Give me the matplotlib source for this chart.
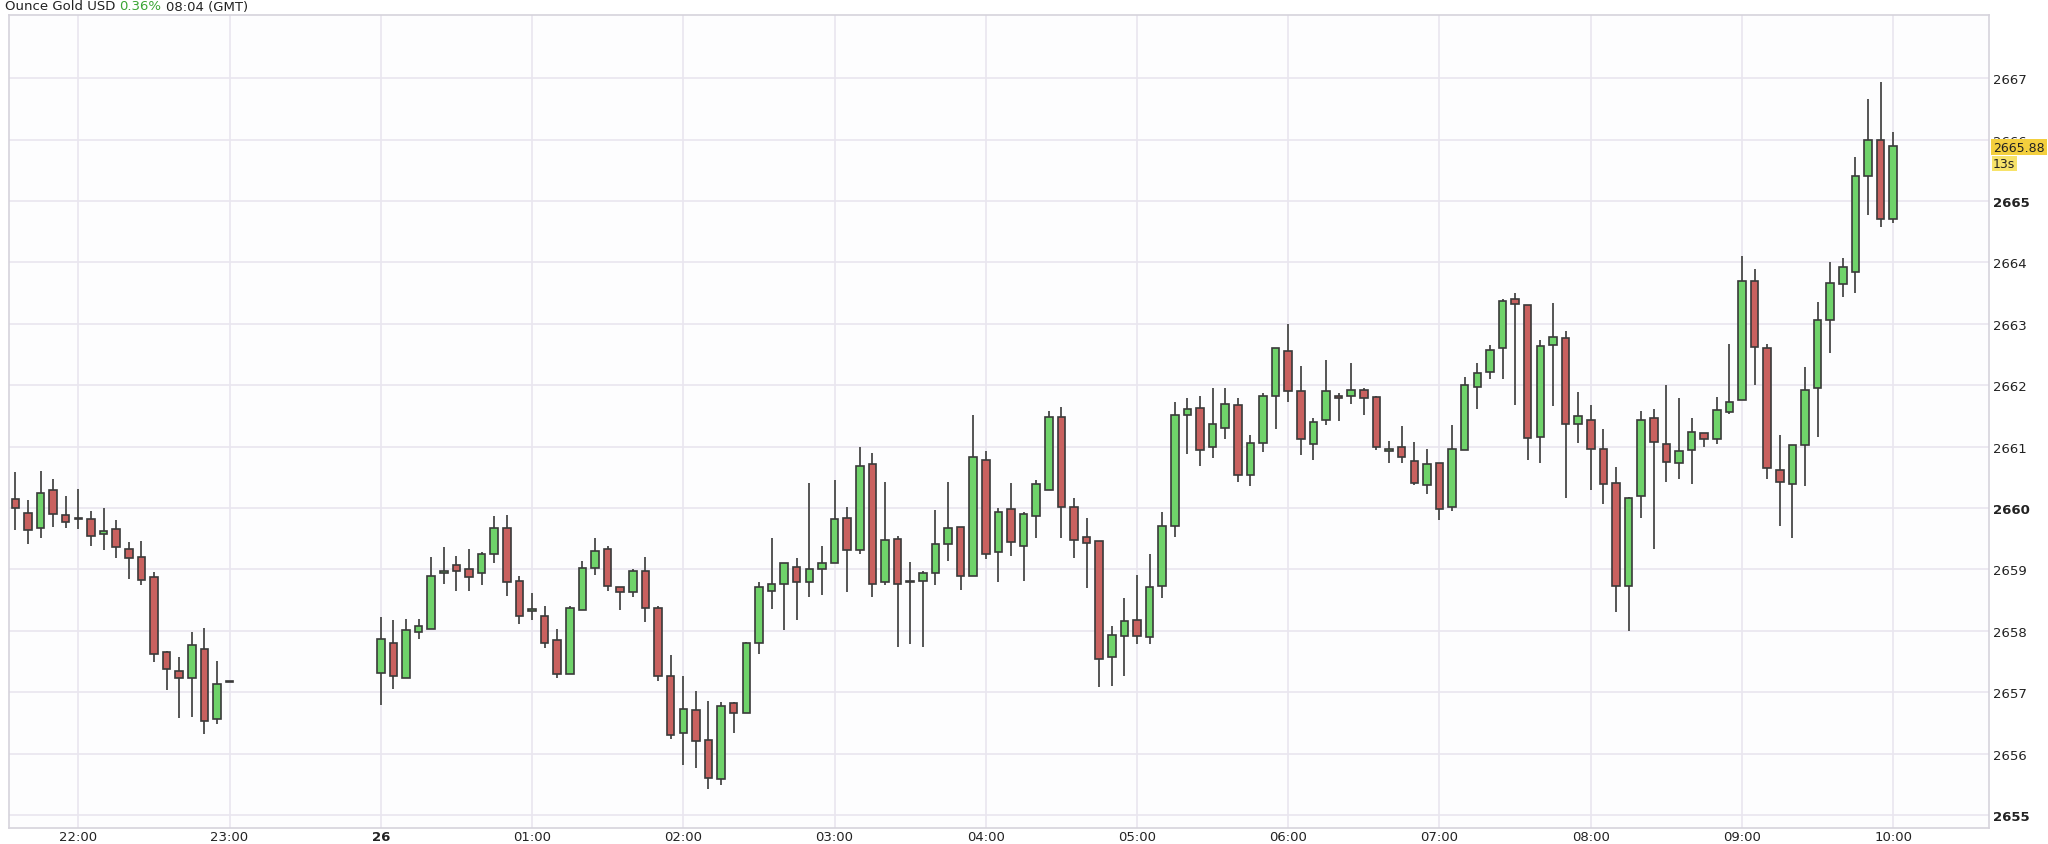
import numpy as np
import matplotlib.pyplot as plt

# 5-minute OHLC candles, 21:35 -> 23:00 then 00:00 -> 10:00
opens = [2660.15, 2659.92, 2659.67, 2660.29, 2659.89, 2659.83, 2659.82, 2659.58, 2659.66, 2659.33,
         2659.21, 2658.88, 2657.65, 2657.35, 2657.23, 2657.70, 2656.56, 2657.17,
         2657.31, 2657.80, 2657.23, 2657.99, 2658.03, 2658.94, 2659.08, 2659.00, 2658.94, 2659.26,
         2659.67, 2658.82, 2658.32, 2658.25, 2657.85, 2657.30, 2658.34, 2659.02, 2659.34, 2658.72,
         2658.64, 2658.97, 2658.37, 2657.27, 2656.33, 2656.71, 2656.23, 2655.59, 2656.82, 2656.66,
         2657.81, 2658.65, 2658.76, 2659.04, 2658.79, 2659.01, 2659.10, 2659.84, 2659.32, 2660.72,
         2658.80, 2659.50, 2658.80, 2658.81, 2658.94, 2659.41, 2659.70, 2658.89, 2660.79, 2659.29,
         2659.98, 2659.39, 2659.87, 2660.30, 2661.49, 2660.02, 2659.53, 2659.46, 2657.58, 2657.91,
         2658.17, 2657.90, 2658.73, 2659.71, 2661.51, 2661.63, 2661.00, 2661.31, 2661.68, 2660.54,
         2661.06, 2661.83, 2662.56, 2661.91, 2661.05, 2661.43, 2661.83, 2661.83, 2661.92, 2661.81,
         2660.93, 2661.00, 2660.77, 2660.37, 2660.73, 2660.02, 2660.94, 2661.97, 2662.21, 2662.61,
         2663.40, 2663.31, 2661.15, 2662.65, 2662.77, 2661.37, 2661.43, 2660.97, 2660.41, 2658.73,
         2660.20, 2661.47, 2661.05, 2660.73, 2660.94, 2661.22, 2661.13, 2661.57, 2661.76, 2663.69,
         2662.61, 2660.62, 2660.40, 2661.03, 2661.96, 2663.07, 2663.65, 2663.85, 2665.40, 2666.00,
         2664.71]
highs = [2660.59, 2660.13, 2660.61, 2660.47, 2660.20, 2660.31, 2659.95, 2660.00, 2659.80, 2659.44,
         2659.46, 2658.96, 2657.67, 2657.57, 2657.99, 2658.04, 2657.51, 2657.17,
         2658.23, 2658.18, 2658.19, 2658.20, 2659.20, 2659.36, 2659.22, 2659.34, 2659.29, 2659.87,
         2659.89, 2658.89, 2658.62, 2658.40, 2658.03, 2658.40, 2659.14, 2659.52, 2659.38, 2658.72,
         2659.01, 2659.21, 2658.40, 2657.60, 2657.27, 2657.02, 2656.86, 2656.85, 2656.85, 2657.82,
         2658.80, 2659.52, 2659.11, 2659.18, 2660.41, 2659.39, 2660.45, 2660.02, 2661.00, 2660.90,
         2660.43, 2659.54, 2659.13, 2658.97, 2659.97, 2660.43, 2659.70, 2661.51, 2660.93, 2660.00,
         2660.41, 2659.94, 2660.45, 2661.58, 2661.65, 2660.16, 2659.84, 2659.46, 2658.08, 2658.53,
         2658.91, 2659.25, 2659.94, 2661.73, 2661.80, 2661.82, 2661.95, 2661.95, 2661.80, 2661.19,
         2661.87, 2662.61, 2662.99, 2662.31, 2661.46, 2662.41, 2661.88, 2662.37, 2661.95, 2661.82,
         2661.10, 2661.34, 2661.07, 2660.96, 2660.73, 2661.36, 2662.14, 2662.36, 2662.66, 2663.40,
         2663.50, 2663.31, 2662.74, 2663.34, 2662.88, 2661.89, 2661.68, 2661.29, 2660.67, 2660.18,
         2661.58, 2661.61, 2662.00, 2661.79, 2661.47, 2661.23, 2661.81, 2662.68, 2664.10, 2663.90,
         2662.68, 2661.19, 2661.02, 2662.29, 2663.36, 2664.00, 2664.07, 2665.71, 2666.66, 2666.94,
         2666.13]
lows = [2659.65, 2659.42, 2659.51, 2659.70, 2659.68, 2659.66, 2659.38, 2659.32, 2659.18, 2658.84,
        2658.75, 2657.50, 2657.04, 2656.58, 2656.59, 2656.32, 2656.48, 2657.17,
        2656.79, 2657.05, 2657.23, 2657.87, 2658.03, 2658.76, 2658.65, 2658.65, 2658.75, 2659.11,
        2658.57, 2658.11, 2658.18, 2657.72, 2657.24, 2657.30, 2658.34, 2658.91, 2658.65, 2658.34,
        2658.56, 2658.14, 2657.19, 2656.24, 2655.81, 2655.76, 2655.42, 2655.49, 2656.34, 2656.66,
        2657.62, 2658.35, 2658.01, 2658.17, 2658.56, 2658.58, 2659.10, 2658.64, 2659.26, 2658.56,
        2658.75, 2657.74, 2657.78, 2657.73, 2658.74, 2659.14, 2658.66, 2658.89, 2659.17, 2658.80,
        2659.22, 2658.81, 2659.52, 2660.30, 2659.51, 2659.19, 2658.70, 2657.09, 2657.11, 2657.26,
        2657.79, 2657.79, 2658.53, 2659.53, 2660.88, 2660.68, 2660.82, 2661.13, 2660.43, 2660.36,
        2660.92, 2661.29, 2661.72, 2660.86, 2660.79, 2661.35, 2661.42, 2661.69, 2661.52, 2660.94,
        2660.73, 2660.74, 2660.37, 2660.23, 2659.80, 2659.96, 2660.94, 2661.61, 2662.10, 2662.11,
        2661.68, 2660.79, 2660.73, 2661.66, 2660.16, 2661.06, 2660.30, 2660.07, 2658.31, 2658.00,
        2659.84, 2659.33, 2660.43, 2660.47, 2660.39, 2661.00, 2661.05, 2661.53, 2661.76, 2662.01,
        2660.47, 2659.71, 2659.52, 2660.36, 2661.16, 2662.52, 2663.44, 2663.51, 2664.77, 2664.57,
        2664.65]
closes = [2660.00, 2659.65, 2660.24, 2659.90, 2659.78, 2659.83, 2659.54, 2659.62, 2659.37, 2659.18,
          2658.83, 2657.62, 2657.38, 2657.24, 2657.77, 2656.54, 2657.14, 2657.17,
          2657.86, 2657.27, 2658.02, 2658.08, 2658.89, 2658.98, 2658.98, 2658.88, 2659.25, 2659.67,
          2658.79, 2658.25, 2658.35, 2657.81, 2657.30, 2658.38, 2659.02, 2659.30, 2658.73, 2658.64,
          2658.98, 2658.38, 2657.27, 2656.30, 2656.72, 2656.21, 2655.60, 2656.78, 2656.67, 2657.80,
          2658.72, 2658.76, 2659.11, 2658.80, 2659.00, 2659.11, 2659.82, 2659.31, 2660.68, 2658.76,
          2659.48, 2658.76, 2658.80, 2658.94, 2659.41, 2659.67, 2658.89, 2660.84, 2659.26, 2659.94,
          2659.44, 2659.90, 2660.39, 2661.48, 2660.02, 2659.48, 2659.43, 2657.55, 2657.94, 2658.16,
          2657.91, 2658.71, 2659.71, 2661.51, 2661.61, 2660.94, 2661.37, 2661.69, 2660.54, 2661.06,
          2661.83, 2662.61, 2661.91, 2661.12, 2661.41, 2661.91, 2661.80, 2661.93, 2661.79, 2660.99,
          2660.96, 2660.83, 2660.41, 2660.72, 2659.99, 2660.96, 2662.00, 2662.20, 2662.58, 2663.38,
          2663.33, 2661.14, 2662.64, 2662.79, 2661.37, 2661.50, 2660.96, 2660.40, 2658.73, 2660.17,
          2661.44, 2661.08, 2660.75, 2660.93, 2661.24, 2661.12, 2661.59, 2661.73, 2663.69, 2662.63,
          2660.66, 2660.43, 2661.02, 2661.92, 2663.06, 2663.67, 2663.92, 2665.41, 2666.00, 2664.71,
          2665.90]

# no data between 23:00 and 00:00: session restarts 12 slots after the 23:00 candle
slots = list(range(18)) + list(range(29, 29 + len(opens) - 18))

tick_slots = [5, 17, 29, 41, 53, 65, 77, 89, 101, 113, 125, 137, 149]
tick_labels = ["22:00", "23:00", "26", "01:00", "02:00", "03:00", "04:00", "05:00",
               "06:00", "07:00", "08:00", "09:00", "10:00"]
price_ticks = list(range(2655, 2668))
last_price = 2665.88

up_col = "#6fd36a"
down_col = "#c9615f"
edge_col = "#3a3a3a"
grid_col = "#e9e6ef"
fs = 9.5

fig = plt.figure(figsize=(20.48, 8.45), dpi=100)
ax = fig.add_axes([9 / 2048, 1 - 829 / 845, (1989 - 9) / 2048, (829 - 16) / 845])
ax.set_facecolor("#fdfdfe")

o = np.array(opens); c = np.array(closes); h = np.array(highs); l = np.array(lows)
x = np.array(slots)
up = c >= o
ax.vlines(x, l, h, color="#555555", lw=1.4, zorder=2)
body_lo = np.minimum(o, c)
body_h = np.maximum(np.abs(c - o), 0.012)
ax.bar(x[up], body_h[up], bottom=body_lo[up], width=0.6, color=up_col,
       edgecolor=edge_col, linewidth=1.2, zorder=3)
ax.bar(x[~up], body_h[~up], bottom=body_lo[~up], width=0.6, color=down_col,
       edgecolor=edge_col, linewidth=1.2, zorder=3)

ax.set_xlim(-0.5, 156.6)
ax.set_ylim(2654.79, 2668.03)
ax.set_xticks(tick_slots)
ax.set_xticklabels(tick_labels)
ax.set_yticks(price_ticks)
ax.set_yticklabels([str(p) for p in price_ticks])
ax.yaxis.tick_right()
ax.tick_params(axis="both", length=0, labelsize=fs, colors="#222222")
ax.tick_params(axis="x", pad=1.5)
ax.tick_params(axis="y", pad=3)
for lab in ax.get_xticklabels():
    if lab.get_text() == "26":
        lab.set_fontweight("bold")
for lab in ax.get_yticklabels():
    if lab.get_text() in ("2655", "2660", "2665"):
        lab.set_fontweight("bold")
ax.grid(True, color=grid_col, lw=1.2, zorder=0)
for sp in ax.spines.values():
    sp.set_color("#d6d3dc")
    sp.set_linewidth(1.2)

# header, pieces chained one after another
t1 = fig.text(5 / 2048, 1 - 7 / 845, "Ounce Gold USD", fontsize=fs, va="center", ha="left", color="#222222")
t2 = ax.annotate("0.36%", xy=(1, 0.5), xycoords=t1, xytext=(3, 0), textcoords="offset points",
                 fontsize=fs, va="center", ha="left", color="#3aa533", annotation_clip=False)
ax.annotate("08:04 (GMT)", xy=(1, 0.5), xycoords=t2, xytext=(3, 0), textcoords="offset points",
            fontsize=fs, va="center", ha="left", color="#222222", annotation_clip=False)

# last price tag
ax.annotate(f"{last_price:.2f}", xy=(1.0, last_price), xycoords=("axes fraction", "data"),
            xytext=(3, 0), textcoords="offset points", va="center", ha="left", fontsize=9,
            color="#222222", bbox=dict(boxstyle="square,pad=0.15", fc="#f3cf3e", ec="none"),
            annotation_clip=False)
ax.annotate("13s", xy=(1.0, last_price), xycoords=("axes fraction", "data"),
            xytext=(3, -12), textcoords="offset points", va="center", ha="left", fontsize=9,
            color="#222222", bbox=dict(boxstyle="square,pad=0.1", fc="#f7e36a", ec="none"),
            annotation_clip=False)

fig.savefig("out.png", dpi=100, facecolor="white")
